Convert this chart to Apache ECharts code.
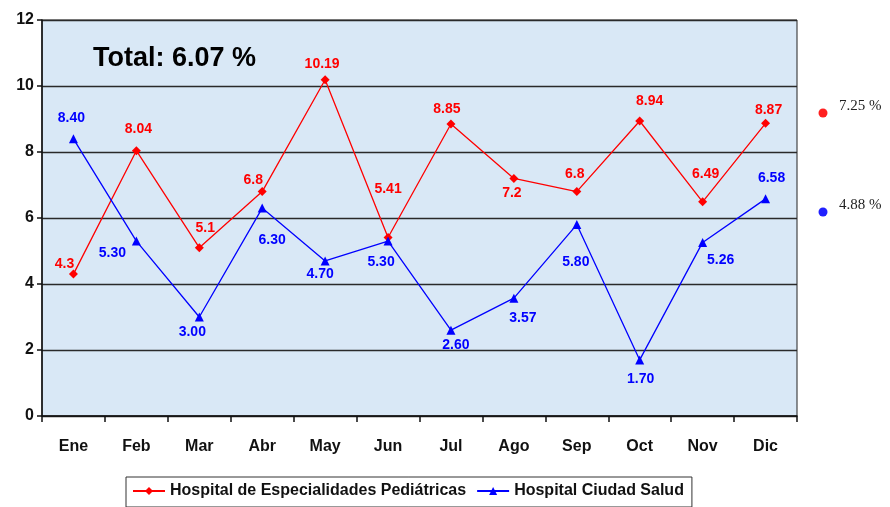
<!DOCTYPE html>
<html>
<head>
<meta charset="utf-8">
<script src="https://cdn.jsdelivr.net/npm/echarts@6/dist/echarts.min.js"></script>
<style>
  html, body { margin: 0; padding: 0; background: #fff; }
  #main { width: 890px; height: 507px; }
</style>
</head>
<body>
<div id="main"></div>
<script>
// data
var months = ["Ene", "Feb", "Mar", "Abr", "May", "Jun", "Jul", "Ago", "Sep", "Oct", "Nov", "Dic"];
var pediatricas = [4.3, 8.04, 5.1, 6.8, 10.19, 5.41, 8.85, 7.2, 6.8, 8.94, 6.49, 8.87];
var ciudadSalud = [8.40, 5.30, 3.00, 6.30, 4.70, 5.30, 2.60, 3.57, 5.80, 1.70, 5.26, 6.58];
var yTicks = [0, 2, 4, 6, 8, 10, 12];
var totalText = "Total: 6.07 %";
var promedios = ["7.25 %", "4.88 %"];

// where each label sits around its point (moved by hand in the original)
var redOffsets = [[-9,-10],[2,-22],[6,-20],[-9,-11],[-3,-16],[0,-48],[-4,-15],[-2,15],[-2,-17],[10,-20],[3,-28],[3,-13]];
var blueOffsets = [[-2,-21],[-24,12],[-7,15],[10,32],[-5,13],[-7,21],[5,15],[9,20],[-1,38],[1,19],[18,18],[6,-21]];

var chartDom = document.getElementById("main");
var myChart = echarts.init(chartDom);

function buildData(values, offsets, fmt, color) {
  return values.map(function (v, i) {
    return {
      value: v,
      label: {
        show: true,
        position: "inside",
        offset: offsets[i],
        formatter: fmt(v),
        color: color,
        fontWeight: "bold",
        fontSize: 14,
        fontFamily: "Liberation Sans, Arial, sans-serif"
      }
    };
  });
}

var option = {
  backgroundColor: "#ffffff",
  animation: false,
  textStyle: { fontFamily: "Liberation Sans, Arial, sans-serif" },
  grid: {
    left: 42, right: 93, top: 20, bottom: 91,
    show: true,
    backgroundColor: "#d9e8f6",
    borderColor: "#222",
    borderWidth: 1
  },
  xAxis: {
    type: "category",
    data: months,
    boundaryGap: true,
    axisLine: { lineStyle: { color: "#111", width: 1.5 } },
    axisTick: { show: true, length: 6, lineStyle: { color: "#111", width: 1.5 } },
    axisLabel: { color: "#111", fontWeight: "bold", fontSize: 16, margin: 23 }
  },
  yAxis: {
    type: "value",
    min: yTicks[0],
    max: yTicks[yTicks.length - 1],
    interval: 2,
    axisLine: { show: true, lineStyle: { color: "#111", width: 1.5 } },
    axisTick: { show: true, length: 5, lineStyle: { color: "#111", width: 1.5 } },
    axisLabel: { color: "#111", fontWeight: "bold", fontSize: 16, margin: 8 },
    splitLine: { show: true, lineStyle: { color: "#2a2a2a", width: 1.3 } }
  },
  legend: {
    top: 477,
    left: 126,
    itemGap: 10,
    itemWidth: 32,
    itemHeight: 10,
    padding: [6, 8, 8, 6],
    borderColor: "#333",
    borderWidth: 1,
    backgroundColor: "#fff",
    textStyle: { color: "#111", fontWeight: "bold", fontSize: 16, fontFamily: "Liberation Sans, Arial, sans-serif" },
    data: ["Hospital de Especialidades Pediátricas", "Hospital Ciudad Salud"]
  },
  graphic: [
    {
      type: "text", left: 93, top: 45,
      style: { text: totalText, fill: "#000", font: "bold 27px Liberation Sans, Arial, sans-serif" }
    },
    { type: "circle", shape: { cx: 823, cy: 113, r: 4.5 }, style: { fill: "#ff2020" } },
    {
      type: "text", left: 839, top: 99,
      style: { text: promedios[0], fill: "#222", font: "15px Liberation Serif, Times New Roman, serif" }
    },
    { type: "circle", shape: { cx: 823, cy: 212, r: 4.5 }, style: { fill: "#2020ff" } },
    {
      type: "text", left: 839, top: 198,
      style: { text: promedios[1], fill: "#222", font: "15px Liberation Serif, Times New Roman, serif" }
    }
  ],
  series: [
    {
      name: "Hospital de Especialidades Pediátricas",
      type: "line",
      symbol: "diamond",
      symbolSize: 9,
      color: "#ff0000",
      lineStyle: { color: "#ff0000", width: 1.3 },
      itemStyle: { color: "#ff0000" },
      data: buildData(pediatricas, redOffsets, function (v) { return String(v); }, "#ff0000")
    },
    {
      name: "Hospital Ciudad Salud",
      type: "line",
      symbol: "triangle",
      symbolSize: 9,
      color: "#0000ff",
      lineStyle: { color: "#0000ff", width: 1.3 },
      itemStyle: { color: "#0000ff" },
      data: buildData(ciudadSalud, blueOffsets, function (v) { return v.toFixed(2); }, "#0000ff")
    }
  ]
};

option && myChart.setOption(option);
</script>
</body>
</html>
